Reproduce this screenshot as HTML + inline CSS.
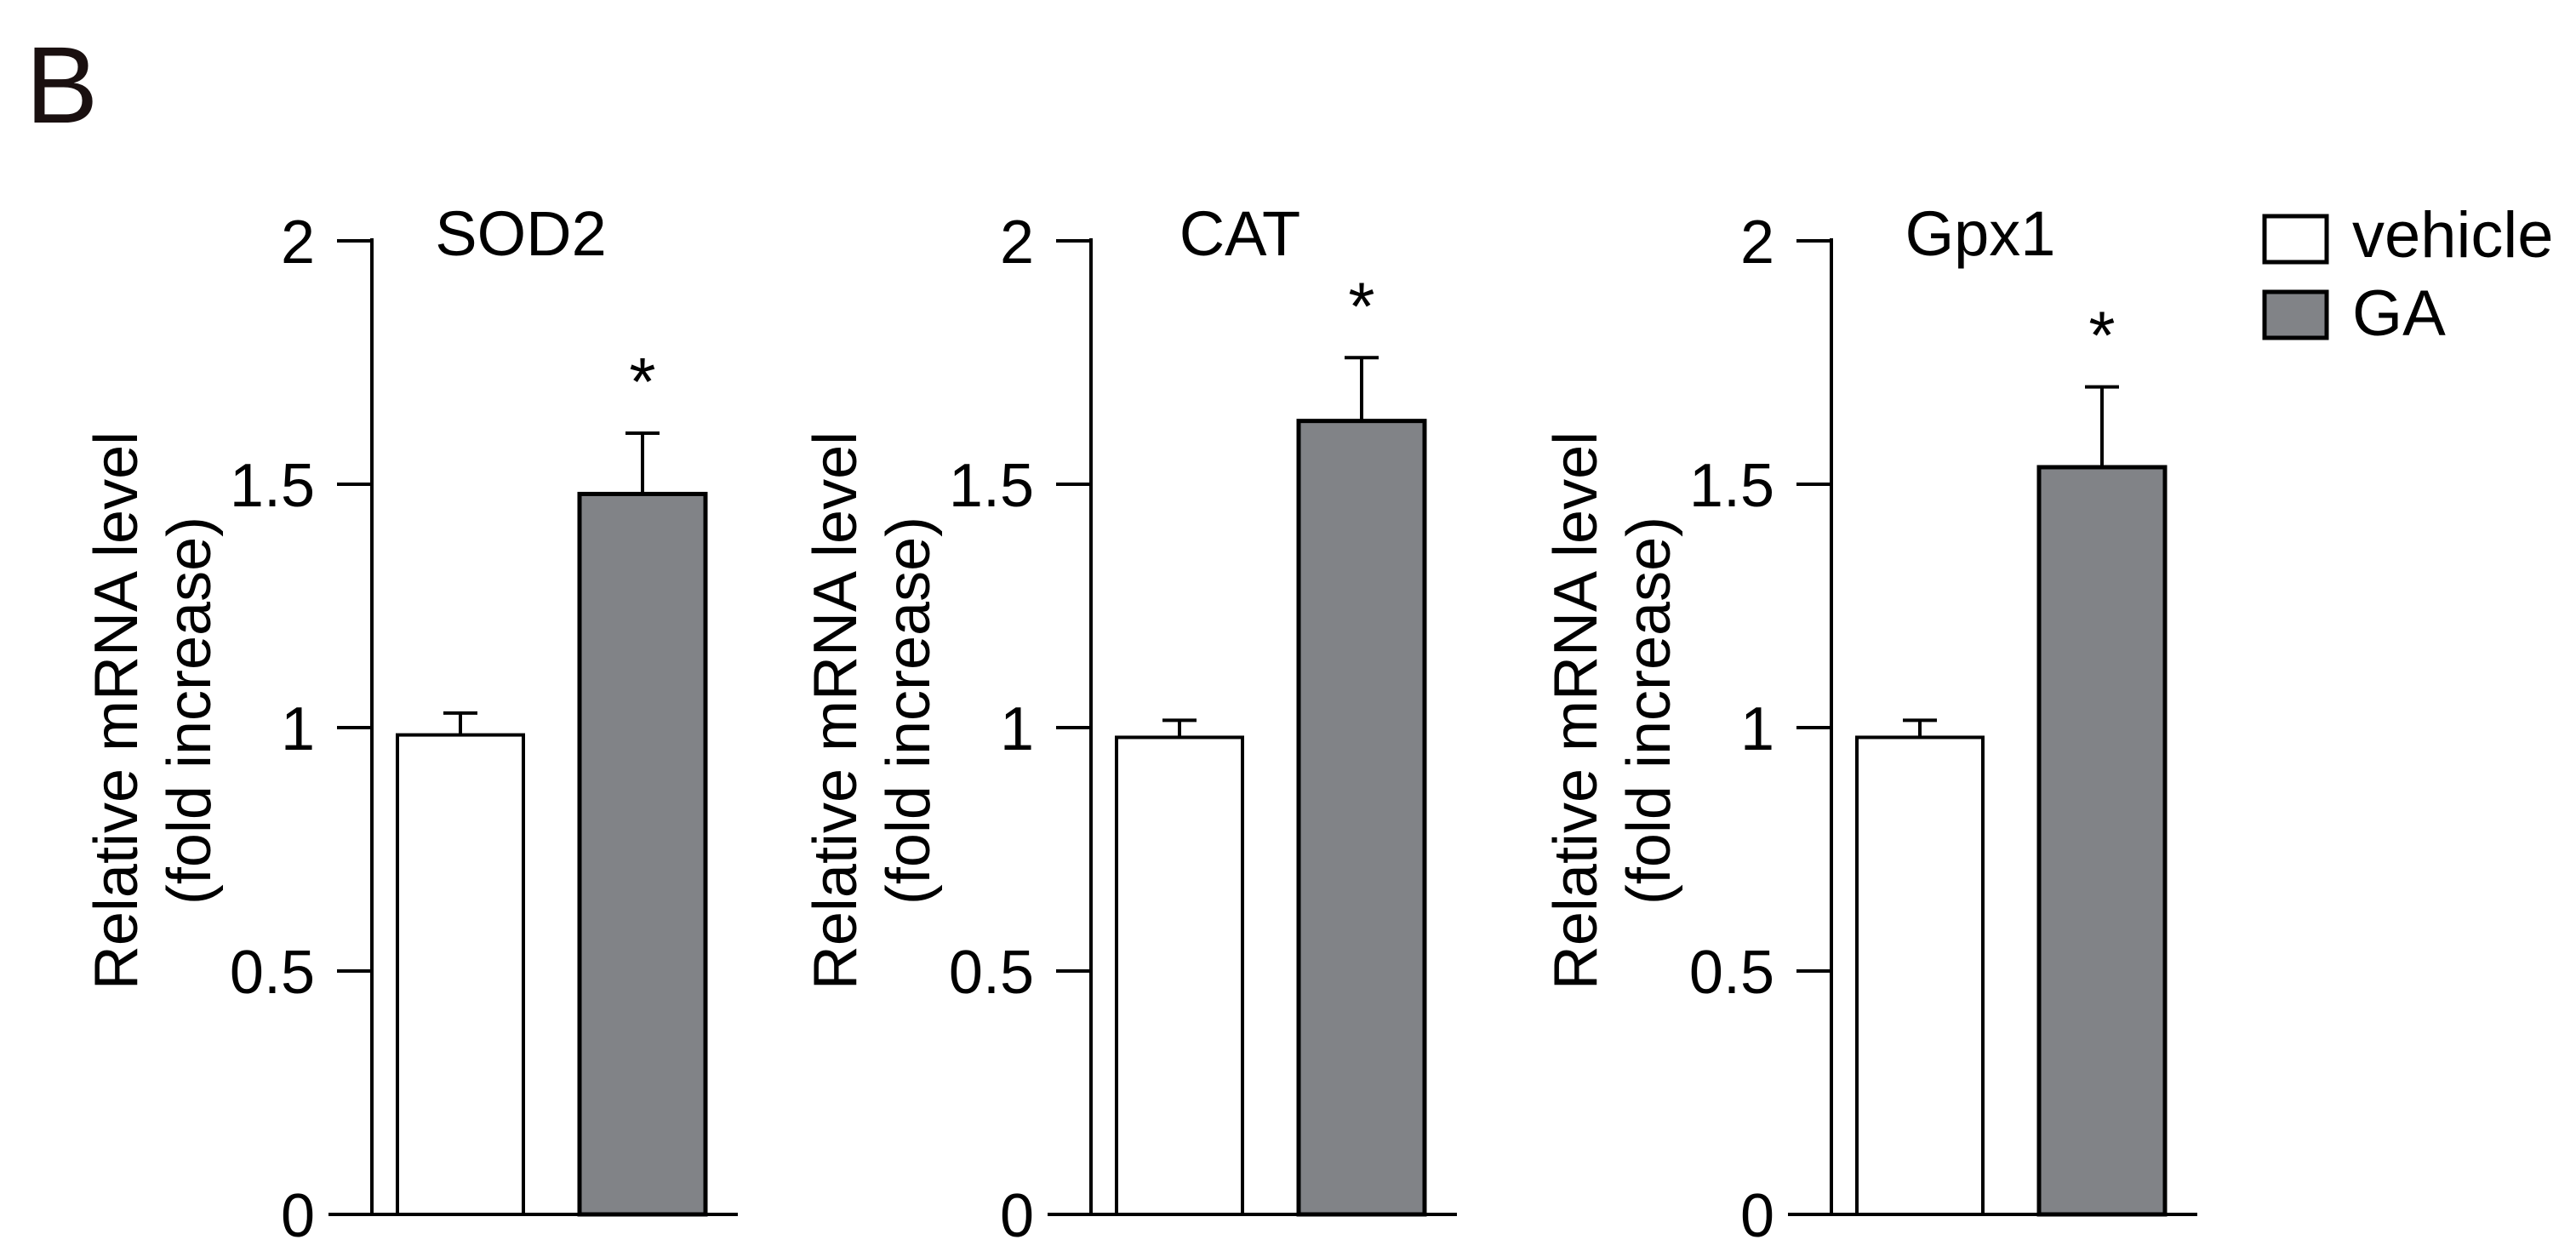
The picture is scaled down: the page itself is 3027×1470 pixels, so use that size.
<!DOCTYPE html>
<html><head><meta charset="utf-8"><style>
html,body{margin:0;padding:0;background:#fff;}
svg{display:block;font-family:"Liberation Sans",Arial,sans-serif;}
</style></head><body>
<svg id="fig" width="3027" height="1470" viewBox="0 0 3027 1470" xmlns="http://www.w3.org/2000/svg">
<text x="30" y="144" font-size="128" fill="#1a1010">B</text>
<g id="legend">
  <rect x="2661" y="254" width="73" height="54" fill="#fff" stroke="#000" stroke-width="5"/>
  <text x="2764" y="302" font-size="76">vehicle</text>
  <rect x="2661" y="343" width="73" height="54" fill="#818387" stroke="#000" stroke-width="5"/>
  <text x="2764" y="394" font-size="76">GA</text>
</g>
</svg>
<script>
const genes = ["SOD2", "CAT", "Gpx1"];
const vehicleMeans = [0.985, 0.98, 0.98];
const vehicleErr = [0.045, 0.035, 0.035];
const gaMeans = [1.48, 1.63, 1.535];
const gaErr = [0.125, 0.13, 0.165];
const yTicks = [0, 0.5, 1, 1.5, 2];
const yTickLabels = ["0", "0.5", "1", "1.5", "2"];
const significant = [true, true, true];

const svg = document.getElementById('fig');
const NS = 'http://www.w3.org/2000/svg';
const axisX = [437, 1282, 2152];
function yScale(v){ return 1427 - 572 * v; }
function mk(tag, attrs){ const e = document.createElementNS(NS, tag); for (const k in attrs) e.setAttribute(k, attrs[k]); return e; }

genes.forEach((g, i) => {
  const ax = axisX[i];
  const grp = mk('g', {});
  
  
  svg.appendChild(grp);

  const yAxis = mk('line', {x1: ax, x2: ax, y1: yScale(2) - 3, y2: yScale(0), stroke: '#000', 'stroke-width': 4});
  
  
  grp.appendChild(yAxis);
  const xAxis = mk('line', {x1: ax - 51, x2: ax + 430, y1: yScale(0), y2: yScale(0), stroke: '#000', 'stroke-width': 4});
  
  
  grp.appendChild(xAxis);

  yTicks.forEach((t, k) => {
    const tk = mk('line', {x1: ax - 41, x2: ax, y1: yScale(t), y2: yScale(t), stroke: '#000', 'stroke-width': 4});
    
    
    grp.appendChild(tk);
    const lb = mk('text', {x: ax - 67, y: yScale(t) + 26, 'font-size': 72, 'text-anchor': 'end'});
    lb.textContent = yTickLabels[k];
    
    
    grp.appendChild(lb);
  });

  const t1 = mk('text', {x: 0, y: 0, 'font-size': 72, 'text-anchor': 'middle', transform: 'translate(' + (ax - 276) + ',835) rotate(-90)'});
  t1.textContent = 'Relative mRNA level';
  
  
  grp.appendChild(t1);
  const t2 = mk('text', {x: 0, y: 0, 'font-size': 72, 'text-anchor': 'middle', transform: 'translate(' + (ax - 190) + ',835) rotate(-90)'});
  t2.textContent = '(fold increase)';
  
  
  grp.appendChild(t2);

  const title = mk('text', {x: ax + 175, y: 300, 'font-size': 74, 'text-anchor': 'middle'});
  title.textContent = g;
  
  
  grp.appendChild(title);

  const series = [
    {m: vehicleMeans[i], e: vehicleErr[i], x0: ax + 30, fill: '#fff', sw: 4, name: 'vehicle'},
    {m: gaMeans[i], e: gaErr[i], x0: ax + 244, fill: '#818387', sw: 5, name: 'ga'}
  ];
  series.forEach(s => {
    const w = 148, cx = s.x0 + w / 2;
    const top = yScale(s.m), etop = yScale(s.m + s.e);
    const st = mk('line', {x1: cx, x2: cx, y1: top, y2: etop, stroke: '#000', 'stroke-width': 4});
    
    
    grp.appendChild(st);
    const cap = mk('line', {x1: cx - 20, x2: cx + 20, y1: etop, y2: etop, stroke: '#000', 'stroke-width': 4});
    
    
    grp.appendChild(cap);
    const r = mk('rect', {x: s.x0, y: top, width: w, height: yScale(0) - top, fill: s.fill, stroke: '#000', 'stroke-width': s.sw});
    
    
    grp.appendChild(r);
    if (s.name === 'ga' && significant[i]) {
      const star = mk('text', {x: cx, y: etop - 79 + 46, 'font-size': 80, 'text-anchor': 'middle'});
      star.textContent = '*';
      
      
      grp.appendChild(star);
    }
  });
});
</script>
</body></html>
